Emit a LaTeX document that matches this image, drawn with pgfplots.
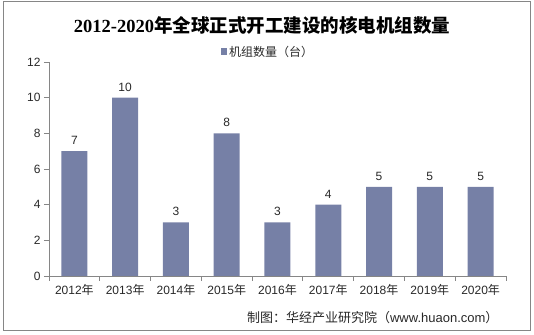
\documentclass[border=0pt]{standalone}
\usepackage{pgfplots}
\pgfplotsset{compat=1.18}
\usepackage{fontspec}
\setmainfont{Liberation Sans}
\newfontfamily\cjk{Noto Sans CJK SC}
\newfontfamily\serifnum{Liberation Serif}
\definecolor{barc}{RGB}{118,128,166}
\definecolor{axc}{RGB}{134,134,134}
\definecolor{txt}{RGB}{40,40,40}
\begin{document}
\begin{tikzpicture}
\path[use as bounding box] (0bp,0bp) rectangle (534bp,335bp);
\draw[axc, line width=1bp] (3bp,4bp) rectangle (530bp,333bp);
\node[font=\fontsize{18.5bp}{21bp}\selectfont\bfseries, text=black] at (262bp,310bp) {{\serifnum 2012-2020}{\cjk 年全球正式开工建设的核电机组数量}};
\begin{axis}[
  at={(49bp,59bp)}, anchor=south west,
  scale only axis, width=457bp, height=214bp,
  xmin=-0.5, xmax=8.5, ymin=0, ymax=12,
  axis x line*=bottom, axis y line*=left,
  axis line style={axc, line width=0.8bp},
  ytick={0,2,...,12},
  xtick={0,...,8},
  xticklabels={2012{\cjk 年},2013{\cjk 年},2014{\cjk 年},2015{\cjk 年},2016{\cjk 年},2017{\cjk 年},2018{\cjk 年},2019{\cjk 年},2020{\cjk 年}},
  minor xtick={-0.5,0.5,...,8.5},
  major x tick style={draw=none},
  minor x tick style={axc, line width=0.8bp},
  y tick style={axc, line width=0.8bp},
  tick align=outside,
  major tick length=5bp, minor tick length=5bp,
  tick label style={font=\fontsize{12bp}{14bp}\selectfont, text=txt},
  /pgf/number format/assume math mode=true,
  ybar, bar width=26bp,
  nodes near coords,
  every node near coord/.append style={font=\fontsize{12bp}{14bp}\selectfont, text=txt, yshift=3bp},
  legend style={at={(0.479,1.047)}, anchor=center, draw=none, fill=none, font=\fontsize{12bp}{14bp}\selectfont, text=txt},
  legend image code/.code={\fill[barc] (0bp,-3bp) rectangle (6.5bp,3.5bp);},
]
\addplot[fill=barc, draw=none] coordinates {(0,7) (1,10) (2,3) (3,8) (4,3) (5,4) (6,5) (7,5) (8,5)};
\addlegendentry{{\cjk 机组数量（台）}}
\end{axis}
\node[anchor=east, font=\fontsize{13bp}{15bp}\selectfont, text=txt] at (502bp,17bp) {{\cjk 制图：华经产业研究院（}www.huaon.com{\cjk ）}};
\end{tikzpicture}
\end{document}
